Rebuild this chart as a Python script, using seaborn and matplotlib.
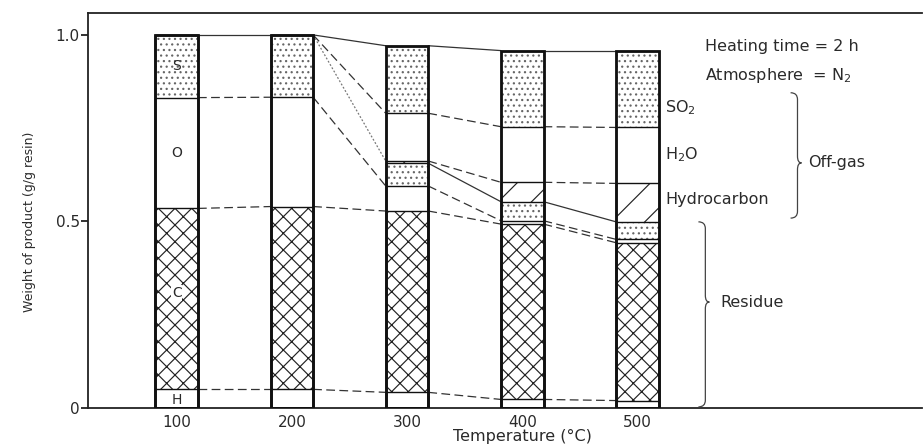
import numpy as np
import matplotlib
matplotlib.use("Agg")
import matplotlib.pyplot as plt
from matplotlib.path import Path
from matplotlib.patches import PathPatch
import seaborn as sns

# ---------------- data (g/g resin) ----------------
temps = [100, 200, 300, 400, 500]
xtick_labels = ["100", "200", "300", "400", "500"]
yticks = [0, 0.5, 1.0]
ytick_labels = ["0", "0.5", "1.0"]

# residue components (bottom to top)
res_H = [0.050, 0.050, 0.042, 0.023, 0.020]
res_C = [0.485, 0.490, 0.486, 0.470, 0.423]
res_O = [0.297, 0.293, 0.067, 0.009, 0.009]
res_S = [0.168, 0.167, 0.061, 0.051, 0.047]
# off-gas components
gas_HC = [0.000, 0.000, 0.006, 0.052, 0.103]
gas_H2O = [0.000, 0.000, 0.128, 0.149, 0.150]
gas_SO2 = [0.000, 0.000, 0.181, 0.204, 0.206]

layer_names = ["H", "C", "O", "S", "Hydrocarbon", "H2O", "SO2"]
layer_vals = [res_H, res_C, res_O, res_S, gas_HC, gas_H2O, gas_SO2]
layer_hatch = ["", "xx", "", "...", "/", "", "..."]
layer_hcol = ["#222222", "#222222", "#222222", "#666666", "#222222", "#222222", "#666666"]

# ---------------- style ----------------
sns.set_style("ticks")
plt.rcParams["font.family"] = ["DejaVu Sans"]
plt.rcParams["hatch.linewidth"] = 0.85
TXT = "#2a2a2a"

fig = plt.figure(figsize=(9.23, 4.45), dpi=100)
ax = fig.add_axes([0.0953, 0.0831, 0.9035, 0.8879])

W = 0.37  # relative bar width (x spacing = 100)
half = W * 100 / 2

cum = np.cumsum(np.array(layer_vals), axis=0)


def bars(y, **props):
    n0 = len(ax.patches)
    sns.barplot(x=temps, y=y, native_scale=True, width=W, errorbar=None,
                color="white", saturation=1, ax=ax)
    new = ax.patches[n0:]
    for p in new:
        p.set(**props)
    return new


# filled / hatched layers: draw from the top layer downward (overlaying)
for k in range(len(layer_vals) - 1, -1, -1):
    bars(cum[k], facecolor="white", edgecolor=layer_hcol[k], hatch=layer_hatch[k],
         linewidth=0, zorder=2)

# thin boundary lines between layers
for k in range(len(layer_vals)):
    bars(cum[k], facecolor="none", edgecolor="#111111", hatch="", linewidth=1.0, zorder=3)
# heavy outline of every bar
bars(cum[-1], facecolor="none", edgecolor="#111111", hatch="", linewidth=2.0, zorder=4)

# ---------------- connecting lines ----------------
SOLID = dict(color="#333333", lw=0.9, ls="-")
DASH = dict(color="#333333", lw=0.9, ls=(0, (7, 3.5)))
DOT = dict(color="#777777", lw=0.9, ls=(0, (1.5, 1.5)))

# level index in cum -> style per gap (None = no line)
connectors = {
    6: [SOLID, SOLID, SOLID, SOLID],  # top
    5: [None, DASH, DASH, DASH],      # SO2 / H2O boundary
    4: [None, DOT, DASH, DASH],       # H2O / hydrocarbon boundary
    3: [None, None, SOLID, SOLID],    # hydrocarbon / residue boundary
    2: [DASH, DASH, DASH, DASH],      # S / O boundary
    1: [DASH, DASH, DASH, DASH],      # O / C boundary
    0: [DASH, DASH, DASH, DASH],      # C / H boundary
}
for lev, styles in connectors.items():
    for i, st in enumerate(styles):
        if st is None:
            continue
        ax.plot([temps[i] + half, temps[i + 1] - half],
                [cum[lev][i], cum[lev][i + 1]], zorder=1.5, **st)

# ---------------- labels in first bar ----------------
lab_kw = dict(ha="center", va="center", fontsize=10, color=TXT, zorder=6)
ax.text(temps[0], cum[2][0] + res_S[0] / 2, "S", **lab_kw)
ax.text(temps[0], cum[1][0] + res_O[0] / 2, "O", **lab_kw)
ax.text(temps[0], 0.308, "C",
        bbox=dict(facecolor="white", edgecolor="none", pad=0.6), **lab_kw)
ax.text(temps[0], res_H[0] / 2 - 0.004, "H", **lab_kw)

# ---------------- right-hand annotations ----------------
ann = dict(fontsize=11.5, color=TXT, va="center", ha="left")
ax.text(559, 0.968, "Heating time = 2 h", **ann)
ax.text(559, 0.890, "Atmosphere  = N$_2$", **ann)
ax.text(524, 0.804, "SO$_2$", **ann)
ax.text(524, 0.678, "H$_2$O", **ann)
ax.text(524, 0.558, "Hydrocarbon", **ann)
ax.text(648, 0.657, "Off-gas", **ann)
ax.text(572, 0.284, "Residue", **ann)


def brace(x0, ytop, ybot, ymid, a=6.0, b=3.5, r=0.018):
    verts = [(x0 - a, ytop), (x0, ytop), (x0, ytop - r),
             (x0, ymid + r), (x0, ymid), (x0 + b, ymid),
             (x0, ymid), (x0, ymid - r),
             (x0, ybot + r), (x0, ybot), (x0 - a, ybot)]
    codes = [Path.MOVETO, Path.CURVE3, Path.CURVE3,
             Path.LINETO, Path.CURVE3, Path.CURVE3,
             Path.CURVE3, Path.CURVE3,
             Path.LINETO, Path.CURVE3, Path.CURVE3]
    ax.add_patch(PathPatch(Path(verts, codes), facecolor="none",
                           edgecolor="#444444", lw=0.9, zorder=5))


brace(639, 0.845, 0.509, 0.657)
brace(559, 0.499, 0.003, 0.284)

# ---------------- axes ----------------
ax.set_xlim(23, 747)
ax.set_ylim(0, 1.059)
ax.set_xticks(temps, xtick_labels)
ax.set_yticks(yticks, ytick_labels)
ax.tick_params(axis="x", length=0, pad=5, labelsize=11, labelcolor=TXT)
ax.tick_params(axis="y", length=5, width=1.3, pad=1, labelsize=11,
               labelcolor=TXT, color="#222222")
for s in ["left", "top", "bottom"]:
    ax.spines[s].set_linewidth(1.3)
    ax.spines[s].set_color("#222222")
ax.spines["right"].set_visible(False)

ax.set_xlabel("Temperature (°C)", fontsize=11.5, color=TXT)
ax.set_ylabel("Weight of product (g/g resin)", fontsize=9, color=TXT)
ax.xaxis.label.set_va("center")
ax.xaxis.set_label_coords(0.521, -0.073)
ax.yaxis.label.set_va("center")
ax.yaxis.set_label_coords(-0.0696, 0.471)

fig.savefig("out.png", dpi=100)
